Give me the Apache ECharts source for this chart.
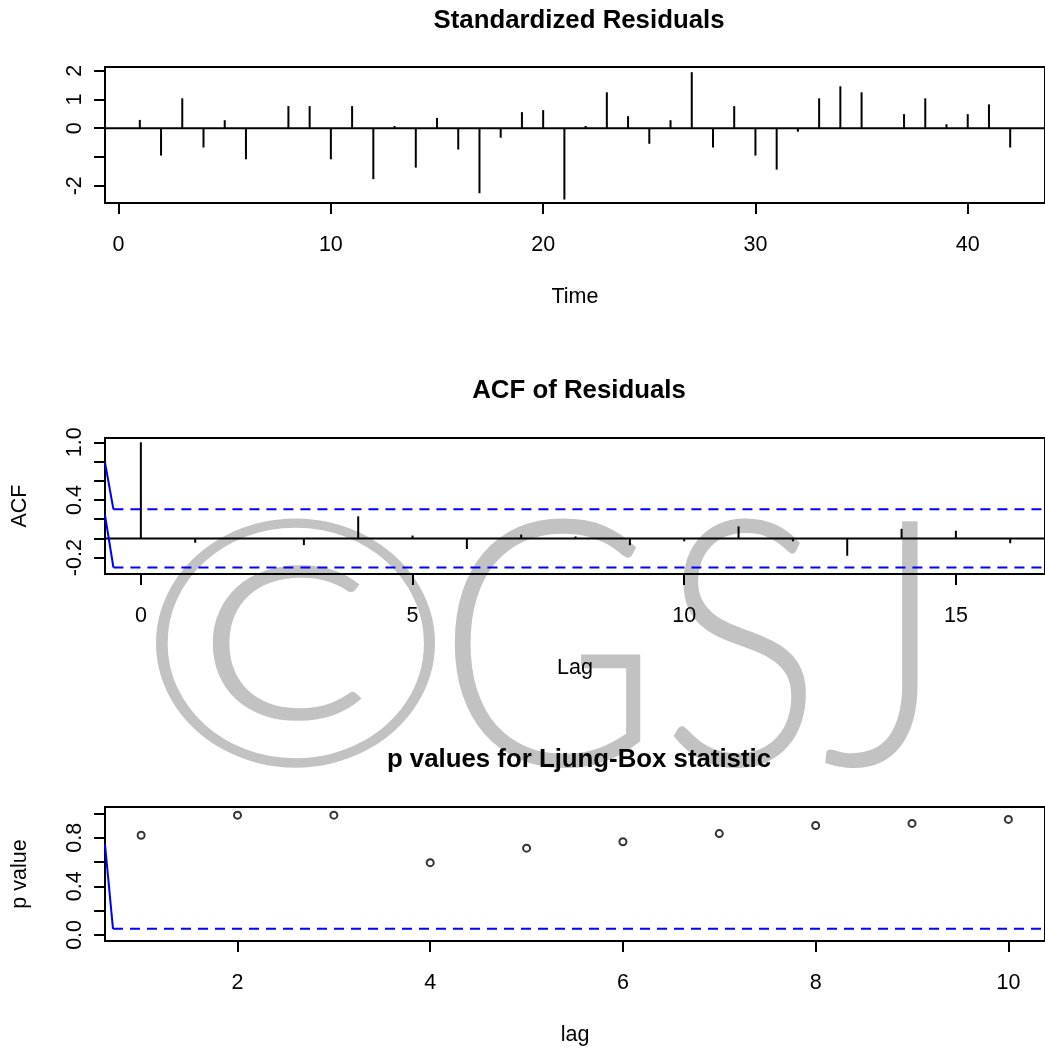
<!DOCTYPE html>
<html>
<head>
<meta charset="utf-8">
<title>ARIMA diagnostics</title>
<script src="https://cdn.jsdelivr.net/npm/echarts@6/dist/echarts.min.js"></script>
<style>
  html, body { margin: 0; padding: 0; background: #ffffff; }
  #chart { width: 1045px; height: 1047px; }
</style>
</head>
<body>
<div id="chart"></div>
<script>
// ---- Standardized residuals (one per time step) ----
const timeIndex = [1, 2, 3, 4, 5, 6, 7, 8, 9, 10, 11, 12, 13, 14, 15, 16, 17, 18, 19, 20, 21,
                   22, 23, 24, 25, 26, 27, 28, 29, 30, 31, 32, 33, 34, 35, 36, 37, 38, 39, 40, 41, 42];
const stdResiduals = [0.29, -0.95, 1.04, -0.67, 0.28, -1.08, 0.0, 0.77, 0.77, -1.08, 0.77, -1.77, 0.08, -1.37,
                      0.36, -0.74, -2.26, -0.33, 0.56, 0.63, -2.48, 0.08, 1.25, 0.42, -0.54, 0.28, 1.95, -0.67,
                      0.77, -0.95, -1.44, -0.12, 1.04, 1.46, 1.25, 0.0, 0.49, 1.04, 0.14, 0.49, 0.83, -0.67];
const timeTicks = [0, 10, 20, 30, 40];
const residTicks = [-2, -1, 0, 1, 2];
const residTickLabels = [-2, 0, 1, 2];

// ---- ACF of residuals ----
const acfLags = [0, 1, 2, 3, 4, 5, 6, 7, 8, 9, 10, 11, 12, 13, 14, 15, 16];
const acfValues = [1.0, -0.045, 0.0, -0.07, 0.23, 0.03, -0.11, 0.04, 0.02, -0.07, -0.03, 0.125, -0.03,
                   -0.18, 0.10, 0.08, -0.05];
const acfXTicks = [0, 5, 10, 15];
const acfYTicks = [-0.2, 0.0, 0.2, 0.4, 0.6, 0.8, 1.0];
const acfYTickLabels = [-0.2, 0.4, 1.0];
const acfBound = 0.3024;                       // 1.96 / sqrt(42)
const acfUpperLead = [[-0.66, 0.79], [-0.505, 0.3024]];
const acfLowerLead = [[-0.66, 0.243], [-0.505, -0.3024]];

// ---- Ljung-Box p values ----
const lbLags = [1, 2, 3, 4, 5, 6, 7, 8, 9, 10];
const lbPValues = [0.82, 0.986, 0.986, 0.595, 0.714, 0.767, 0.834, 0.901, 0.918, 0.951];
const lbXTicks = [2, 4, 6, 8, 10];
const lbYTicks = [0.0, 0.2, 0.4, 0.6, 0.8, 1.0];
const lbYTickLabels = [0.0, 0.4, 0.8];
const lbLevel = 0.05;
const lbLead = [[0.625, 0.745], [0.708, 0.05]];

// ---- drawing ----
const FONT = '"Liberation Sans", Arial, Helvetica, sans-serif';
const MARK_FONT = 'Lato, "Open Sans", "Liberation Sans", sans-serif';
const FS = 21.5;
const BLACK = '#000000';
const BLUE = '#0000ff';

const panels = [
  { top: 67,  height: 136, xMin: -0.64, xMax: 43.64, yMin: -2.6,  yMax: 2.13 },
  { top: 438, height: 136, xMin: -0.66, xMax: 16.64, yMin: -0.37, yMax: 1.045 },
  { top: 807, height: 137, xMin: 0.625, xMax: 10.38, yMin: -0.05, yMax: 1.053 }
];

function gridOf(p) {
  return {
    left: 105, top: p.top, width: 949, height: p.height,
    show: true, borderColor: BLACK, borderWidth: 2, backgroundColor: 'transparent',
    containLabel: false
  };
}

function xAxisOf(idx, ticks, labels, name, fmt) {
  const p = panels[idx];
  return {
    type: 'value', gridIndex: idx, min: p.xMin, max: p.xMax,
    axisLine: { show: false, onZero: false },
    axisTick: { show: true, inside: false, length: 11, customValues: ticks,
                lineStyle: { color: BLACK, width: 2 } },
    axisLabel: { show: true, customValues: labels, margin: 31, color: BLACK,
                 fontSize: FS, fontFamily: FONT, formatter: fmt },
    splitLine: { show: false },
    name: name, nameLocation: 'middle', nameGap: 83,
    nameTextStyle: { color: BLACK, fontSize: FS, fontFamily: FONT }
  };
}

function yAxisOf(idx, ticks, labels, name, fmt) {
  const p = panels[idx];
  return {
    type: 'value', gridIndex: idx, min: p.yMin, max: p.yMax,
    axisLine: { show: false, onZero: false },
    axisTick: { show: true, inside: false, length: 11, customValues: ticks,
                lineStyle: { color: BLACK, width: 2 } },
    axisLabel: { show: true, customValues: labels, margin: 19, rotate: 90, color: BLACK,
                 fontSize: FS, fontFamily: FONT, formatter: fmt },
    splitLine: { show: false },
    name: name, nameLocation: 'middle', nameGap: 74, nameRotate: 90,
    nameTextStyle: { color: BLACK, fontSize: FS, fontFamily: FONT }
  };
}

const intFmt = v => String(Math.round(v));
const oneDec = v => (Math.abs(v) < 1e-9 ? 0 : v).toFixed(1);

function spikes(idx, xs, ys) {
  return {
    type: 'bar', xAxisIndex: idx, yAxisIndex: idx, barWidth: 2, silent: true,
    itemStyle: { color: BLACK },
    data: xs.map((x, i) => [x, ys[i]])
  };
}

function hline(idx, pts, color, dashed) {
  return {
    type: 'line', xAxisIndex: idx, yAxisIndex: idx, silent: true, symbol: 'none',
    lineStyle: { color: color, width: 2, type: dashed ? [10, 7] : 'solid' },
    data: pts, z: 3
  };
}

function titleText(text, y) {
  return {
    type: 'text', x: 579, y: y, z: 10, silent: true,
    style: { text: text, font: 'bold 25.8px ' + FONT, fill: BLACK,
             align: 'center', verticalAlign: 'middle',
             textAlign: 'center', textVerticalAlign: 'middle' }
  };
}

// faint copyright mark behind the panels
function markText(text, x, y, size, sx) {
  return {
    type: 'text', x: x, y: y, z: -10, silent: true, scaleX: sx, scaleY: 1,
    style: { text: text, font: '300 ' + size + 'px ' + MARK_FONT, fill: '#c2c2c2',
             align: 'left', verticalAlign: 'middle',
             textAlign: 'left', textVerticalAlign: 'middle' }
  };
}

const chart = echarts.init(document.getElementById('chart'), null, { renderer: 'canvas' });

chart.setOption({
  animation: false,
  backgroundColor: '#ffffff',
  grid: panels.map(gridOf),
  xAxis: [
    xAxisOf(0, timeTicks, timeTicks, 'Time', intFmt),
    xAxisOf(1, acfXTicks, acfXTicks, 'Lag', intFmt),
    xAxisOf(2, lbXTicks, lbXTicks, 'lag', intFmt)
  ],
  yAxis: [
    yAxisOf(0, residTicks, residTickLabels, '', intFmt),
    yAxisOf(1, acfYTicks, acfYTickLabels, 'ACF', oneDec),
    yAxisOf(2, lbYTicks, lbYTickLabels, 'p value', oneDec)
  ],
  graphic: [
    markText('\u00a9', 133, 654, 345, 1.12),
    markText('GSJ', 437, 654, 345, 0.88),
    titleText('Standardized Residuals', 21),
    titleText('ACF of Residuals', 391),
    titleText('p values for Ljung-Box statistic', 760)
  ],
  series: [
    spikes(0, timeIndex, stdResiduals),
    hline(0, [[panels[0].xMin, 0], [panels[0].xMax, 0]], BLACK, false),

    spikes(1, acfLags, acfValues),
    hline(1, [[panels[1].xMin, 0], [panels[1].xMax, 0]], BLACK, false),
    hline(1, acfUpperLead, BLUE, false),
    hline(1, acfLowerLead, BLUE, false),
    hline(1, [[acfUpperLead[1][0], acfBound], [panels[1].xMax, acfBound]], BLUE, true),
    hline(1, [[acfLowerLead[1][0], -acfBound], [panels[1].xMax, -acfBound]], BLUE, true),

    hline(2, lbLead, BLUE, false),
    hline(2, [[lbLead[1][0], lbLevel], [panels[2].xMax, lbLevel]], BLUE, true),
    {
      type: 'scatter', xAxisIndex: 2, yAxisIndex: 2, silent: true,
      symbol: 'circle', symbolSize: 7, z: 4,
      itemStyle: { color: '#ffffff', borderColor: BLACK, borderWidth: 2 },
      data: lbLags.map((x, i) => [x, lbPValues[i]])
    }
  ]
});
</script>
</body>
</html>
